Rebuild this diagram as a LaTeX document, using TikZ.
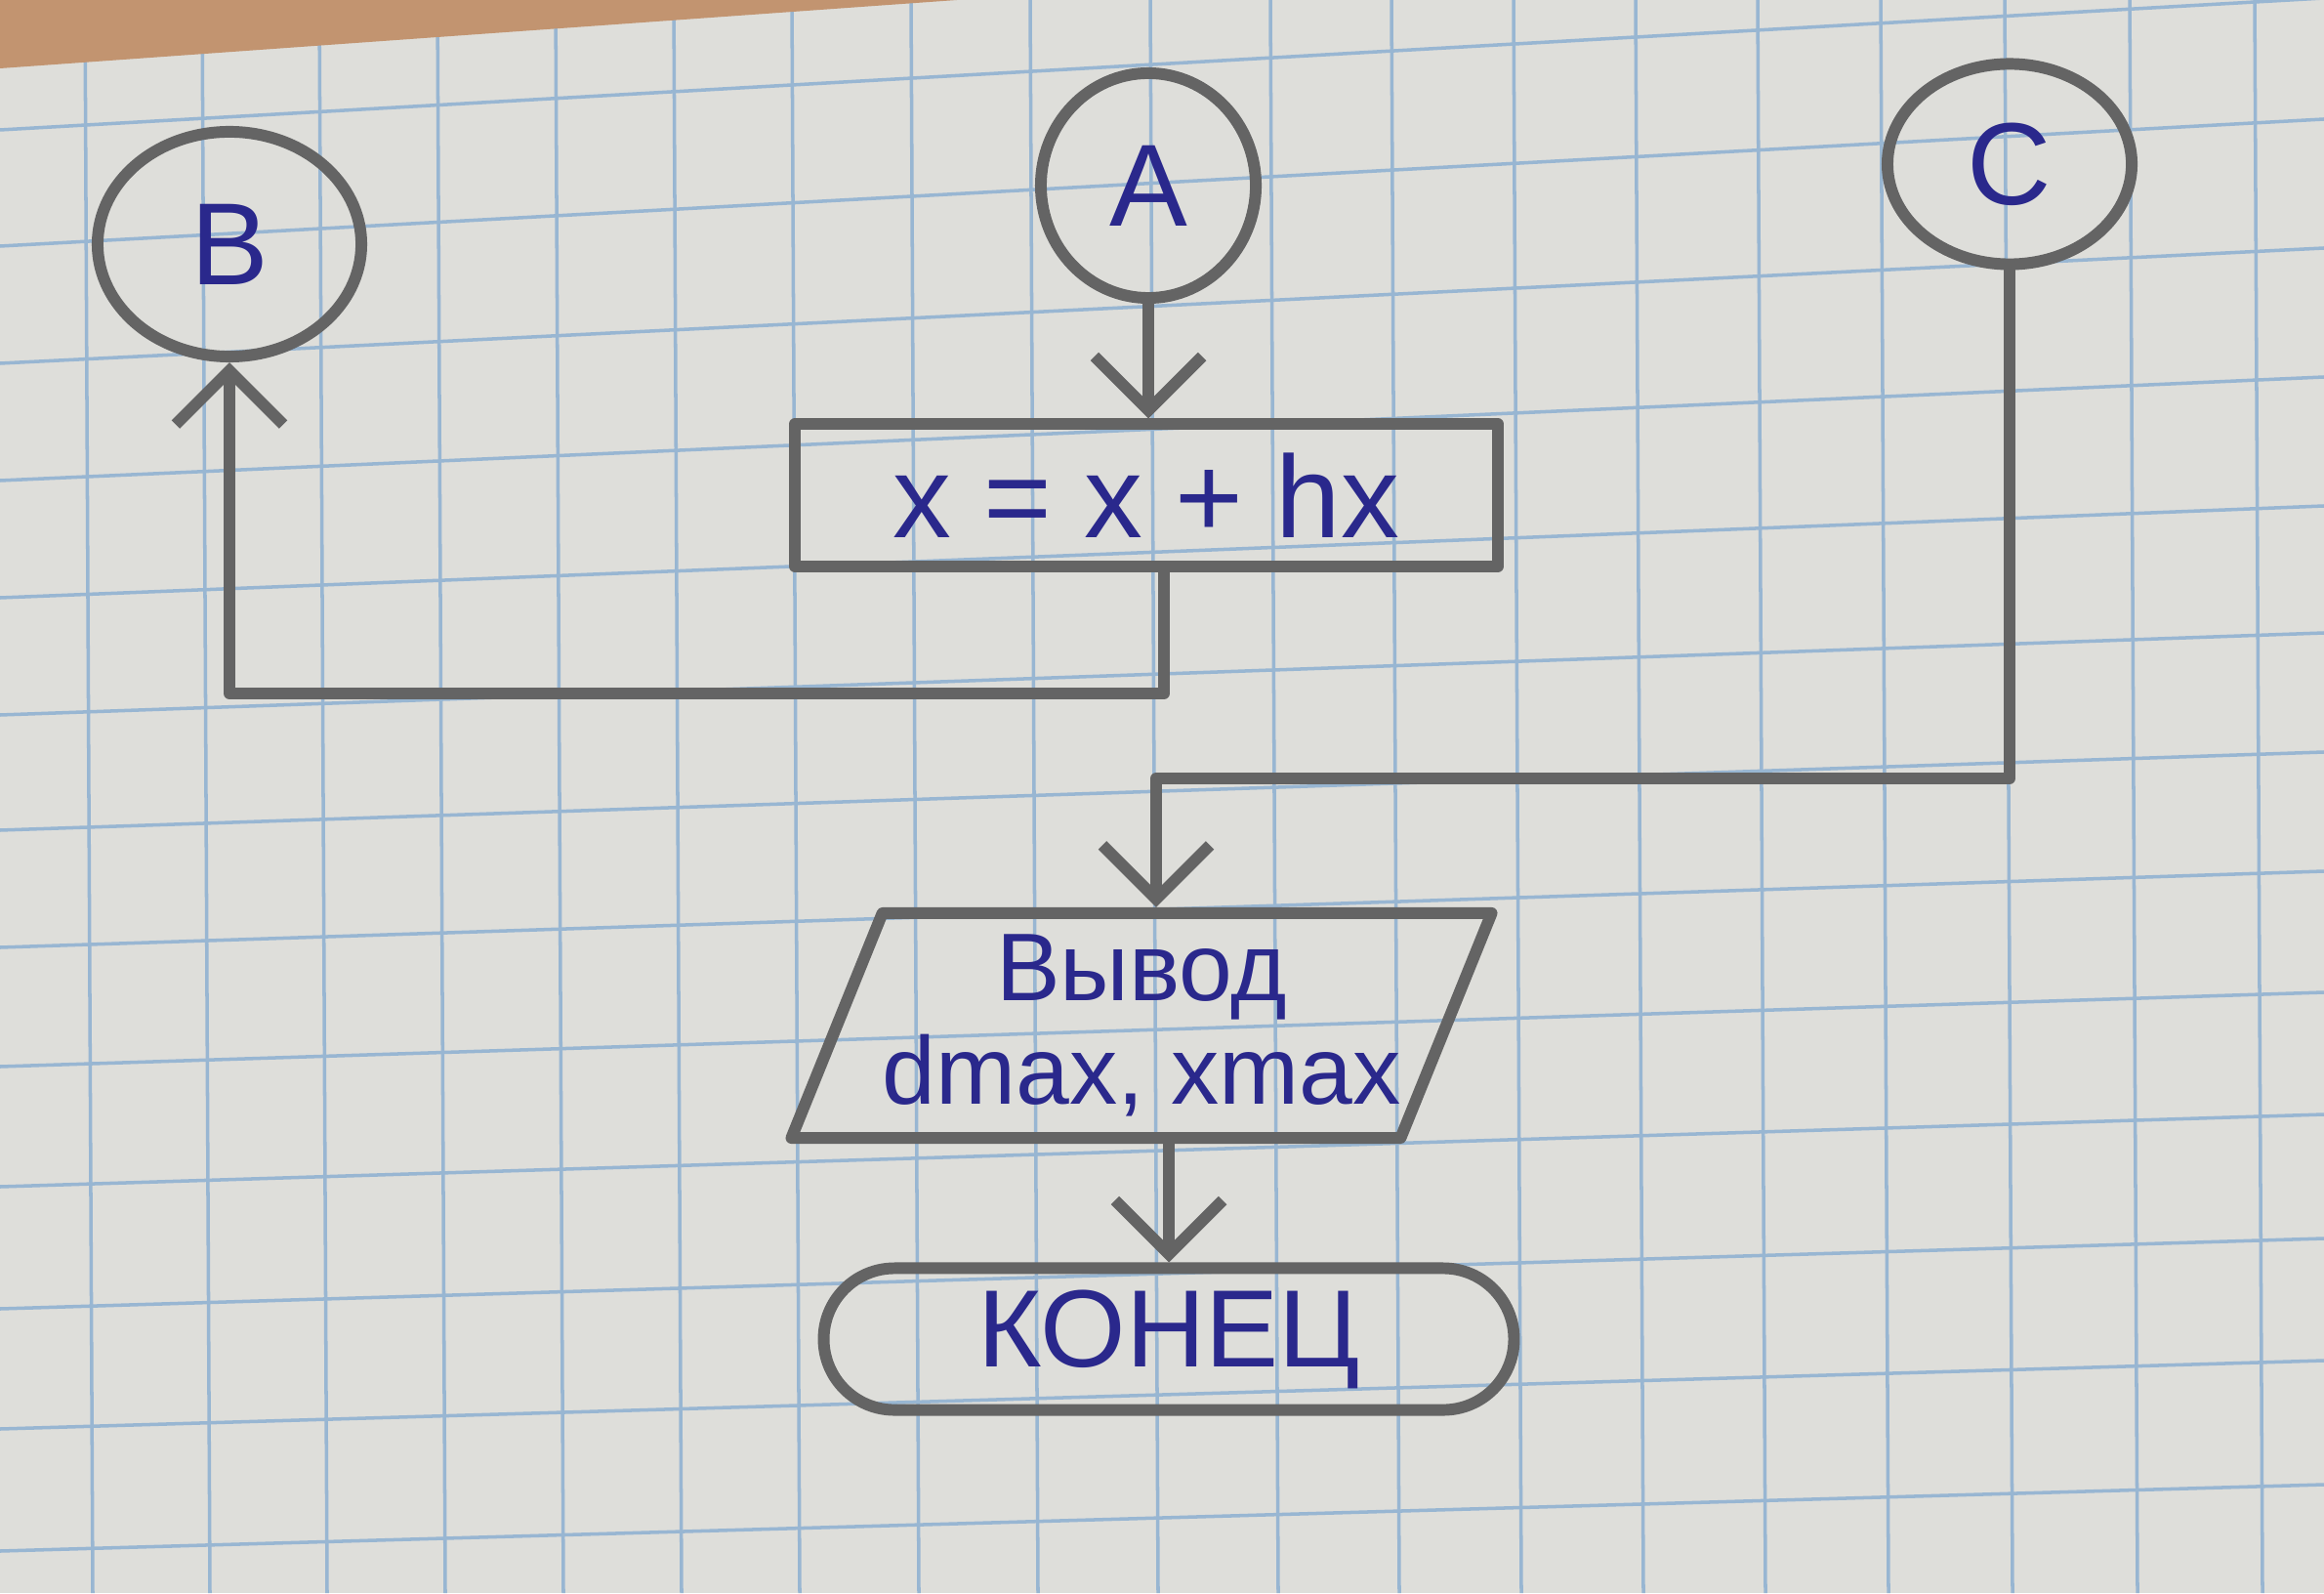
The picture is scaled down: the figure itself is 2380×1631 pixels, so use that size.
\documentclass[tikz,border=0pt]{standalone}
\usepackage{fontspec}
\setmainfont{Liberation Sans}
\usetikzlibrary{positioning,shapes.geometric,shapes.misc,arrows.meta}

\definecolor{pencil}{RGB}{100,100,100}
\definecolor{ink}{RGB}{42,40,140}
\definecolor{paper}{RGB}{222,222,218}
\definecolor{gridblue}{RGB}{152,182,210}
\definecolor{desk}{RGB}{194,148,112}

\tikzset{
  pline/.style={draw=pencil, line width=3.4pt, line cap=round, line join=round},
  gridl/.style={draw=gridblue, line width=1pt},
  conn/.style={pline, ellipse, inner sep=0pt, text=ink, font=\fontsize{34}{40}\selectfont},
  proc/.style={pline, rectangle, minimum width=7.2cm, minimum height=1.45cm,
    text=ink, font=\fontsize{34}{40}\selectfont},
  io/.style={pline, trapezium, trapezium left angle=66, trapezium right angle=114,
    trapezium stretches=true, minimum width=7.15cm, minimum height=2.3cm,
    inner xsep=0pt, align=center, text=ink, font=\fontsize{28}{30}\selectfont},
  term/.style={pline, rounded rectangle, minimum width=7.3cm, minimum height=1.45cm,
    text=ink, font=\fontsize{32}{38}\selectfont},
  arr/.style={pline, -{Straight Barb[length=0.55cm, width=1.1cm]}}
}

\begin{document}
\begin{tikzpicture}[x=0.01cm, y=-0.01cm]
  \useasboundingbox (0,0) rectangle (2380,1631);

  % paper in squares
  \fill[paper] (0,0) rectangle (2380,1631);
  \foreach \gx in {87,207,327,448,569,690,811,933,1055,1178,1301,1425,1550,1675,1800,1926,2053,2181,2309}
    \draw[gridl] (\gx,0) -- (\gx+8,1631);
  \foreach \gy/\gd in {13/140,133/135,252/130,372/118,492/106,612/94,732/84,850/80,970/78,1092/76,1215/74,1340/72,1463/70,1588/68,1710/66}
    \draw[gridl] (0,\gy) -- (2380,\gy-\gd);
  \fill[desk] (0,0) -- (980,0) -- (0,70) -- cycle;

  % connectors
  \node[conn, minimum width=2.7cm, minimum height=2.3cm] (circB) at (235,250) {B};
  \node[conn, minimum width=2.2cm, minimum height=2.3cm] (circA) at (1176,190) {A};
  \node[conn, minimum width=2.5cm, minimum height=2.05cm] (circC) at (2058,168) {C};

  % step, output, end
  \node[proc] (calc) at (1174,507) {x = x + hx};
  \node[io] (out) at (1169,1050) {Вывод\\dmax, xmax};
  \node[term] (stop) at (1197,1371) {КОНЕЦ};

  % corners of the lines
  \coordinate (jB) at (1192,710);
  \coordinate (jC) at (1184,797);

  % lines
  \draw[arr] (circA.south) -- (circA.south |- calc.north);
  \draw[arr] (calc.south -| jB) -- (jB) -| (circB.south);
  \draw[arr] (circC.south) |- (jC) -- (jC |- out.north);
  \draw[arr] (out.south -| stop.north) -- (stop.north);
\end{tikzpicture}
\end{document}
